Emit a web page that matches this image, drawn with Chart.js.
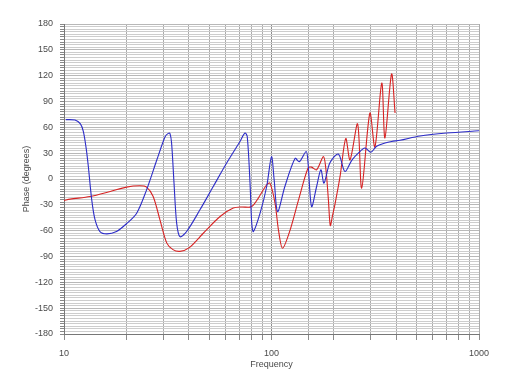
<!DOCTYPE html>
<html>
<head>
<meta charset="utf-8">
<script src="https://cdn.jsdelivr.net/npm/chart.js@4"></script>
<style>
    body { margin: 0; background: #fff; }
    canvas { display: block; }
</style>
</head>
<body>
<canvas id="phaseChart" width="512" height="381"></canvas>
<script>
// Phase response data
const blueFreq = [10.2, 11.3, 12.0, 12.4, 12.8, 13.1, 13.6, 14.1, 14.9, 16.1, 17.9, 20, 22.4, 25, 28, 30.7, 31.8,
    32.4, 33.0, 33.9, 34.9, 36.2, 39, 45.2, 52.4, 60.8, 70.5, 74.5, 76.4, 78.8, 80.3, 81.8, 88.1, 94.8, 100,
    103, 107, 116, 130, 136, 147, 150, 156, 165, 173, 179, 191, 210, 226, 244, 262, 282, 301, 321, 352, 379,
    416, 520, 698, 1000];
const bluePhase = [69, 68.5, 64, 55, 35, 14.5, -24, -47, -61, -63.7, -61, -52, -39.7, -12.6, 22, 49, 53,
    53, 41.7, -4.8, -51, -67, -61, -35.8, -8.7, 18.5, 43.6, 53.4, 49.4, -4.8, -51, -61, -39.7, -8.7, 26,
    -1, -37.8, -8.7, 24, 20, 32, 18.5, -32, -8.7, 10.7, -4.8, 18.5, 29, 8.7, 22, 30, 36, 31, 38, 41.7, 43.6,
    45, 50, 53.4, 56];

const redFreq = [10, 10.7, 13.35, 16.7, 20, 23.2, 25, 26.9, 29, 31.3, 33.5, 36.2, 40, 46.9, 56.5, 65.4, 72,
    78.8, 82, 86.4, 94.8, 98.3, 104, 108, 113, 123, 135, 150, 156, 165, 178, 183, 188, 192, 197, 202, 214,
    228, 239, 260, 272, 298, 315, 340, 352, 379, 394];
const redPhase = [-25, -23.4, -20.3, -14.5, -9.4, -7.9, -9.4, -20.3, -47.4, -74.5, -82, -84, -80, -63, -43.6,
    -33.8, -32.5, -32.7, -30, -22.2, -6.7, -4.8, -28, -59, -80.4, -59, -24.2, 12.7, 13.8, 10.7, 26, 10.7, -24,
    -54, -42, -30, 3, 47, 22.3, 64, -10.6, 76.6, 37, 111.5, 47.6, 122, 76.6];

const xLabels = [10, 100, 1000];
const yMin = -180, yMax = 180, yMinorStep = 3, yMajorStep = 30;

function toPoints(freqs, phases) {
    return freqs.map((f, i) => ({ x: f, y: phases[i] }));
}

const textColor = '#4a4a4a';
const font = { family: 'Liberation Sans, Arial, sans-serif', size: 9 };

new Chart(document.getElementById('phaseChart'), {
    type: 'line',
    data: {
        datasets: [
            {
                label: 'Phase B',
                data: toPoints(blueFreq, bluePhase),
                borderColor: 'rgb(45, 45, 200)',
                borderWidth: 1.1,
                pointRadius: 0,
                tension: 0.3
            },
            {
                label: 'Phase A',
                data: toPoints(redFreq, redPhase),
                borderColor: 'rgb(215, 35, 35)',
                borderWidth: 1.1,
                pointRadius: 0,
                tension: 0.3
            }
        ]
    },
    options: {
        responsive: false,
        animation: false,
        devicePixelRatio: 1,
        layout: { padding: { top: 24, right: 33, left: 0, bottom: 0 } },
        plugins: { legend: { display: false }, tooltip: { enabled: false } },
        scales: {
            x: {
                type: 'logarithmic',
                min: 10,
                max: 1000,
                afterFit: scale => { scale.height = 47; },
                border: { color: '#777' },
                grid: {
                    color: ctx => (ctx.tick && ctx.tick.value === 100) ? '#8c8c8c' : '#ababab',
                    tickColor: '#8c8c8c',
                    tickLength: 6
                },
                ticks: {
                    autoSkip: false,
                    maxRotation: 0,
                    padding: 8,
                    color: textColor,
                    font: font,
                    callback: v => xLabels.includes(v) ? String(v) : ''
                },
                title: {
                    display: true,
                    text: 'Frequency',
                    color: textColor,
                    font: font,
                    padding: { top: 0, bottom: 11 }
                }
            },
            y: {
                min: yMin,
                max: yMax,
                afterFit: scale => { scale.width = 64; },
                border: { color: '#777' },
                grid: {
                    color: ctx => (ctx.tick && ctx.tick.value % yMajorStep === 0) ? '#b8b8b8' : '#cdcdcd',
                    tickColor: '#888',
                    tickLength: 4
                },
                ticks: {
                    stepSize: yMinorStep,
                    autoSkip: false,
                    padding: 7,
                    color: textColor,
                    font: font,
                    callback: v => v % yMajorStep === 0 ? String(v) : ''
                },
                title: {
                    display: true,
                    text: 'Phase (degrees)',
                    color: textColor,
                    font: font,
                    padding: { top: 21, bottom: 0 }
                }
            }
        }
    }
});
</script>
</body>
</html>
